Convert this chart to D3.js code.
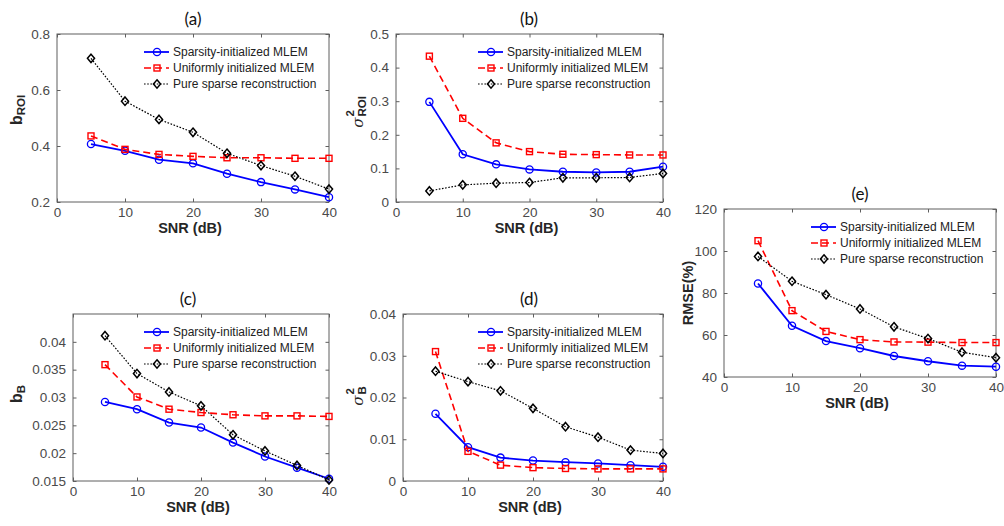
<!DOCTYPE html>
<html>
<head>
<meta charset="utf-8">
<script src="https://cdn.jsdelivr.net/npm/d3@7"></script>
<style>
  html, body { margin: 0; padding: 0; background: #ffffff; }
  svg { display: block; }
</style>
</head>
<body>
<svg id="chart" width="1004" height="526"></svg>
<script>
// ---------------- DATA ----------------
const snr = [5, 10, 15, 20, 25, 30, 35, 40];
const xTicks = [0, 10, 20, 30, 40];
const seriesNames = ["Sparsity-initialized MLEM", "Uniformly initialized MLEM", "Pure sparse reconstruction"];

// (a) b_ROI
const bROI_sparsity = [0.407, 0.383, 0.351, 0.338, 0.301, 0.271, 0.245, 0.217];
const bROI_uniform  = [0.436, 0.388, 0.370, 0.363, 0.358, 0.358, 0.356, 0.356];
const bROI_pure     = [0.713, 0.560, 0.495, 0.449, 0.374, 0.330, 0.292, 0.246];
const bROI_ticks    = [0.2, 0.4, 0.6, 0.8];

// (b) sigma^2_ROI
const vROI_sparsity = [0.298, 0.142, 0.112, 0.097, 0.090, 0.088, 0.090, 0.105];
const vROI_uniform  = [0.434, 0.249, 0.176, 0.150, 0.142, 0.141, 0.140, 0.140];
const vROI_pure     = [0.033, 0.051, 0.056, 0.058, 0.072, 0.072, 0.073, 0.085];
const vROI_ticks    = [0, 0.1, 0.2, 0.3, 0.4, 0.5];

// (c) b_B
const bB_sparsity = [0.0292, 0.0279, 0.0255, 0.0246, 0.0219, 0.0194, 0.0174, 0.0154];
const bB_uniform  = [0.0359, 0.0301, 0.0279, 0.0273, 0.0269, 0.0267, 0.0267, 0.0266];
const bB_pure     = [0.0411, 0.0343, 0.0310, 0.0285, 0.0233, 0.0204, 0.0178, 0.0152];
const bB_ticks    = [0.015, 0.02, 0.025, 0.03, 0.035, 0.04];

// (d) sigma^2_B
const vB_sparsity = [0.0161, 0.0081, 0.0056, 0.0049, 0.0045, 0.0042, 0.0038, 0.0034];
const vB_uniform  = [0.0310, 0.0071, 0.0038, 0.0032, 0.0030, 0.0029, 0.0029, 0.0029];
const vB_pure     = [0.0263, 0.0238, 0.0216, 0.0174, 0.0130, 0.0105, 0.0074, 0.0066];
const vB_ticks    = [0, 0.01, 0.02, 0.03, 0.04];

// (e) RMSE(%)
const rmse_sparsity = [84.5, 64.4, 57.1, 53.7, 50.0, 47.5, 45.4, 44.9];
const rmse_uniform  = [104.9, 71.6, 61.7, 57.8, 56.7, 56.6, 56.4, 56.4];
const rmse_pure     = [97.4, 85.6, 79.2, 72.4, 63.9, 58.3, 51.8, 49.2];
const rmse_ticks    = [40, 60, 80, 100, 120];

// ---------------- LAYOUT / STYLE ----------------
const styles = [
  { color: "#0000ff", dash: null,      width: 1.8, marker: "circle" },
  { color: "#ff0000", dash: "7,4",     width: 1.6, marker: "square" },
  { color: "#000000", dash: "1.6,1.6", width: 1.2, marker: "diamond" }
];

const panels = [
  { title: "(a)", tx: 193, ty: 18, rect: [57, 34, 329, 202], yDomain: [0.2, 0.8], yTicks: bROI_ticks,
    fmt: d => d3.format(".1f")(d), series: [bROI_sparsity, bROI_uniform, bROI_pure],
    ylab: { type: "sub", main: "b", sub: "ROI", x: 16, y: 110 }, leg: [144, 52] },
  { title: "(b)", tx: 529, ty: 18, rect: [396, 34, 663, 202], yDomain: [0, 0.5], yTicks: vROI_ticks,
    fmt: d => d === 0 ? "0" : d3.format(".1f")(d), series: [vROI_sparsity, vROI_uniform, vROI_pure],
    ylab: { type: "sigma", sub: "ROI", x: 358, y: 112 }, leg: [478, 52] },
  { title: "(c)", tx: 188, ty: 298, rect: [73, 314, 329, 481], yDomain: [0.015, 0.045], yTicks: bB_ticks,
    fmt: d => { const s = d3.format(".3f")(d); return s.replace(/0+$/, ""); }, series: [bB_sparsity, bB_uniform, bB_pure],
    ylab: { type: "sub", main: "b", sub: "B", x: 16, y: 394 }, leg: [144, 332] },
  { title: "(d)", tx: 529, ty: 298, rect: [403, 314, 663, 481], yDomain: [0, 0.04], yTicks: vB_ticks,
    fmt: d => d === 0 ? "0" : d3.format(".2f")(d), series: [vB_sparsity, vB_uniform, vB_pure],
    ylab: { type: "sigma", sub: "B", x: 358, y: 396 }, leg: [478, 332] },
  { title: "(e)", tx: 860, ty: 193, rect: [724, 209, 996, 377], yDomain: [40, 120], yTicks: rmse_ticks,
    fmt: d => String(d), series: [rmse_sparsity, rmse_uniform, rmse_pure],
    ylab: { type: "plain", text: "RMSE(%)", x: 688, y: 293 }, leg: [811, 227] }
];

const svg = d3.select("#chart");
const axisColor = "#5f5f5f";
const tickText = "#4a4a4a";
const labelColor = "#262626";
const fontSans = "'Liberation Sans', Arial, sans-serif";

function drawMarker(g, type, x, y, color) {
  if (type === "circle") {
    g.append("circle").attr("cx", x).attr("cy", y).attr("r", 3.6)
      .attr("fill", "none").attr("stroke", color).attr("stroke-width", 1.3);
  } else if (type === "square") {
    g.append("rect").attr("x", x - 3).attr("y", y - 3).attr("width", 6).attr("height", 6)
      .attr("fill", "none").attr("stroke", color).attr("stroke-width", 1.4);
  } else {
    const s = 4.2;
    g.append("path").attr("d", `M${x},${y - s}L${x + s * 0.85},${y}L${x},${y + s}L${x - s * 0.85},${y}Z`)
      .attr("fill", "none").attr("stroke", color).attr("stroke-width", 1.5);
  }
}

panels.forEach(p => {
  const [x0, y0, x1, y1] = p.rect;
  const x = d3.scaleLinear().domain([0, 40]).range([x0, x1]);
  const y = d3.scaleLinear().domain(p.yDomain).range([y1, y0]);
  const g = svg.append("g");

  // Title
  g.append("text").attr("x", p.tx).attr("y", p.ty).attr("text-anchor", "middle")
    .attr("dominant-baseline", "central")
    .style("font-family", "Lato, 'Open Sans', sans-serif").style("font-size", "17px")
    .style("fill", "#111").text(p.title);

  // Box
  g.append("rect").attr("x", x0).attr("y", y0).attr("width", x1 - x0).attr("height", y1 - y0)
    .attr("fill", "none").attr("stroke", axisColor).attr("stroke-width", 1);

  // Axes (bottom & left with inward ticks)
  const xAxis = d3.axisBottom(x).tickValues(xTicks).tickSizeInner(-3.5).tickSizeOuter(0).tickPadding(5);
  const gx = g.append("g").attr("transform", `translate(0,${y1})`).call(xAxis);
  const yAxis = d3.axisLeft(y).tickValues(p.yTicks).tickSizeInner(-3.5).tickSizeOuter(0).tickPadding(7).tickFormat(p.fmt);
  const gy = g.append("g").attr("transform", `translate(${x0},0)`).call(yAxis);
  // Mirror ticks (top & right)
  const gxt = g.append("g").attr("transform", `translate(0,${y0})`)
    .call(d3.axisTop(x).tickValues(xTicks).tickSizeInner(-3.5).tickSizeOuter(0).tickFormat(""));
  const gyr = g.append("g").attr("transform", `translate(${x1},0)`)
    .call(d3.axisRight(y).tickValues(p.yTicks).tickSizeInner(-3.5).tickSizeOuter(0).tickFormat(""));
  [gx, gy, gxt, gyr].forEach(a => {
    a.select(".domain").remove();
    a.selectAll(".tick line").attr("stroke", axisColor);
    a.selectAll(".tick text").style("font-family", fontSans).style("font-size", "13.5px").style("fill", tickText);
  });

  // X label
  g.append("text").attr("x", (x0 + x1) / 2 - 3).attr("y", y1 + 31).attr("text-anchor", "middle")
    .style("font-family", fontSans).style("font-size", "14.5px").style("font-weight", "bold")
    .style("fill", labelColor).text("SNR (dB)");

  // Y label
  const yl = g.append("g").attr("transform", `translate(${p.ylab.x},${p.ylab.y}) rotate(-90)`);
  if (p.ylab.type === "plain") {
    yl.append("text").attr("text-anchor", "middle").attr("dominant-baseline", "central")
      .style("font-family", fontSans).style("font-size", "14.5px").style("font-weight", "bold")
      .style("fill", labelColor).text(p.ylab.text);
  } else if (p.ylab.type === "sub") {
    const t = yl.append("text").attr("dominant-baseline", "central")
      .style("font-family", fontSans).style("font-weight", "bold").style("fill", labelColor);
    t.append("tspan").style("font-size", "16px").text(p.ylab.main);
    t.append("tspan").style("font-size", "11.5px").attr("dy", 5).text(p.ylab.sub);
    const w = t.node().getComputedTextLength();
    t.attr("x", -w / 2);
  } else {
    const sg = yl.append("g");
    const sig = sg.append("text").attr("x", 0).attr("y", 0).attr("dominant-baseline", "central")
      .style("font-family", "'DejaVu Serif', serif").style("font-style", "italic").style("font-size", "15px")
      .style("fill", labelColor).text("σ");
    const ws = sig.node().getComputedTextLength();
    const sup = sg.append("text").attr("x", ws + 1).attr("y", -8).attr("dominant-baseline", "central")
      .style("font-family", fontSans).style("font-weight", "bold").style("font-size", "11.5px")
      .style("fill", labelColor).text("2");
    const sub = sg.append("text").attr("x", ws + 1).attr("y", 4).attr("dominant-baseline", "central")
      .style("font-family", fontSans).style("font-weight", "bold").style("font-size", "11.5px")
      .style("fill", labelColor).text(p.ylab.sub);
    const total = ws + 1 + Math.max(sup.node().getComputedTextLength(), sub.node().getComputedTextLength());
    sg.attr("transform", `translate(${-total / 2},0)`);
  }

  // Series
  const line = d3.line().x((d, i) => x(snr[i])).y(d => y(d));
  p.series.forEach((vals, si) => {
    const st = styles[si];
    const sgp = g.append("g");
    sgp.append("path").datum(vals).attr("d", line).attr("fill", "none")
      .attr("stroke", st.color).attr("stroke-width", st.width)
      .attr("stroke-dasharray", st.dash);
    vals.forEach((v, i) => drawMarker(sgp, st.marker, x(snr[i]), y(v), st.color));
  });

  // Legend
  const [lx, ly] = p.leg;
  seriesNames.forEach((name, si) => {
    const st = styles[si];
    const yy = ly + si * 16;
    const lg = g.append("g");
    lg.append("line").attr("x1", lx).attr("x2", lx + 25).attr("y1", yy).attr("y2", yy)
      .attr("stroke", st.color).attr("stroke-width", st.width).attr("stroke-dasharray", st.dash);
    drawMarker(lg, st.marker, lx + 13, yy, st.color);
    lg.append("text").attr("x", lx + 29).attr("y", yy).attr("dominant-baseline", "central")
      .style("font-family", fontSans).style("font-size", "12px").style("fill", "#222").text(name);
  });
});
</script>
</body>
</html>
